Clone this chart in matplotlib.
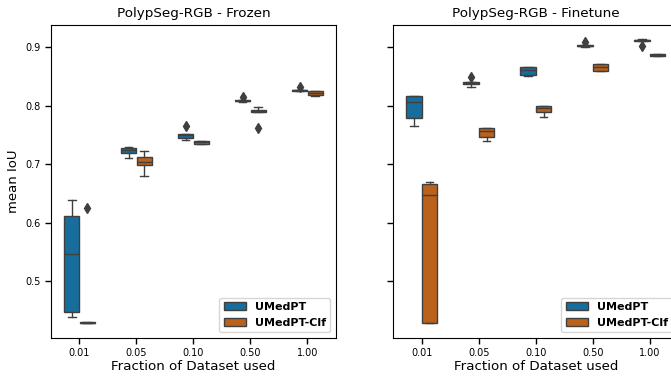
import colorsys

import numpy as np
import matplotlib
matplotlib.use("Agg")
import matplotlib.pyplot as plt
from matplotlib.colors import to_rgb
from matplotlib.patches import Patch

fractions = ["0.01", "0.05", "0.10", "0.50", "1.00"]
models = ["UMedPT", "UMedPT-Clf"]

# five runs per fraction
frozen_umedpt = [
    [0.4385, 0.447, 0.546, 0.611, 0.639],
    [0.710, 0.719, 0.724, 0.728, 0.730],
    [0.741, 0.744, 0.749, 0.752, 0.765],
    [0.806, 0.807, 0.808, 0.809, 0.815],
    [0.825, 0.8255, 0.826, 0.827, 0.831],
]
frozen_clf = [
    [0.429, 0.429, 0.429, 0.430, 0.625],
    [0.680, 0.699, 0.704, 0.713, 0.723],
    [0.734, 0.735, 0.737, 0.739, 0.739],
    [0.762, 0.789, 0.791, 0.793, 0.798],
    [0.817, 0.818, 0.821, 0.824, 0.825],
]
finetune_umedpt = [
    [0.765, 0.779, 0.806, 0.816, 0.817],
    [0.831, 0.836, 0.838, 0.840, 0.849],
    [0.850, 0.852, 0.861, 0.865, 0.866],
    [0.900, 0.901, 0.902, 0.903, 0.908],
    [0.902, 0.910, 0.911, 0.912, 0.913],
]
finetune_clf = [
    [0.429, 0.429, 0.6475, 0.666, 0.670],
    [0.740, 0.747, 0.756, 0.761, 0.762],
    [0.780, 0.789, 0.796, 0.800, 0.800],
    [0.859, 0.859, 0.865, 0.870, 0.870],
    [0.884, 0.884, 0.886, 0.888, 0.888],
]


def desaturate(color, prop=0.75):
    h, l, s = colorsys.rgb_to_hls(*to_rgb(color))
    return colorsys.hls_to_rgb(h, l, s * prop)


colors = [desaturate("#0173b2"), desaturate("#d55e00")]
gray = "#3f3f3f"

plt.rcParams["font.family"] = "DejaVu Sans"

fig = plt.figure(figsize=(6.71, 3.76), dpi=100)
ax1 = fig.add_axes([0.076, 0.102, 0.4247, 0.831])
ax2 = fig.add_axes([0.586, 0.102, 0.4247, 0.831], sharey=ax1)

panels = [
    (ax1, "PolypSeg-RGB - Frozen", [frozen_umedpt, frozen_clf]),
    (ax2, "PolypSeg-RGB - Finetune", [finetune_umedpt, finetune_clf]),
]

x = np.arange(len(fractions))
offset = 0.1375
for ax, title, series in panels:
    for k, data in enumerate(series):
        pos = x + (k - 0.5) * 2 * offset
        ax.boxplot(
            data, positions=pos, widths=0.27, patch_artist=True,
            manage_ticks=False,
            boxprops=dict(facecolor=colors[k], edgecolor=gray, linewidth=1.0),
            medianprops=dict(color=gray, linewidth=1.0),
            whiskerprops=dict(color=gray, linewidth=1.0),
            capprops=dict(color=gray, linewidth=1.0),
            flierprops=dict(marker="d", markersize=5, markerfacecolor=gray,
                            markeredgecolor=gray),
        )
    ax.set_xticks(x)
    ax.set_xticklabels(fractions)
    ax.set_xlim(-0.5, len(fractions) - 0.5)
    ax.set_title(title, fontsize=9.7)
    ax.set_xlabel("Fraction of Dataset used", fontsize=9.6, labelpad=1.5)
    ax.tick_params(labelsize=7, length=4, width=1)
    handles = [Patch(facecolor=c, edgecolor=gray, label=m)
               for c, m in zip(colors, models)]
    ax.legend(handles=handles, loc="lower right",
              prop=dict(size=8, weight="bold"))

ax1.set_ylabel("mean IoU", fontsize=9.5)
ax1.set_yticks([0.5, 0.6, 0.7, 0.8, 0.9])
ax1.set_ylim(0.404, 0.937)
plt.setp(ax2.get_yticklabels(), visible=False)

fig.savefig("out.png", dpi=100)
